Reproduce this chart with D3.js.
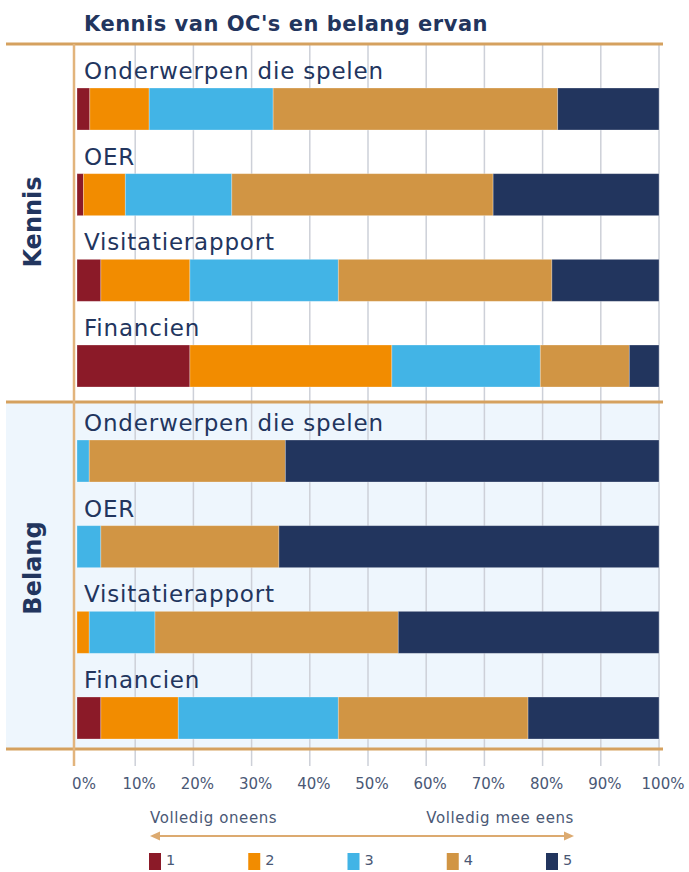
<!DOCTYPE html>
<html>
<head>
<meta charset="utf-8">
<script src="https://cdn.jsdelivr.net/npm/d3@7"></script>
<style>
  body { margin: 0; background: #fff; }
  svg { display: block; font-family: 'DejaVu Sans', sans-serif; }
</style>
</head>
<body>
<svg id="chart" width="689" height="872"></svg>
<script>
const categories = ['Onderwerpen die spelen', 'OER', 'Visitatierapport', 'Financien']
const sections = ['Kennis', 'Belang']
const levels = ['1', '2', '3', '4', '5']
const colors = ['#8b1a28', '#f28c00', '#42b4e6', '#d19544', '#22355e']

// share of answers per level 1..5
const kennis = [
  [2.2, 10.2, 21.3, 48.9, 17.4],
  [1.1, 7.2, 18.3, 44.9, 28.5],
  [4.1, 15.3, 25.5, 36.7, 18.4],
  [19.4, 34.7, 25.5, 15.3, 5.1],
]
const belang = [
  [0, 0, 2.1, 33.7, 64.2],
  [0, 0, 4.1, 30.6, 65.3],
  [0, 2.1, 11.3, 41.8, 44.8],
  [4.1, 13.3, 27.5, 32.6, 22.5],
]
const tickValues = [0, 10, 20, 30, 40, 50, 60, 70, 80, 90, 100]
const title = "Kennis van OC's en belang ervan"
const leftLabel = 'Volledig oneens'
const rightLabel = 'Volledig mee eens'

const navy = '#22355e'
const rule = '#d5a15f'

const svg = d3.select('#chart')

const x = d3.scaleLinear().domain([0, 100]).range([77, 659])

// section bands (top rule, bottom rule) and bar rows per section
const sectionBox = d3.scaleOrdinal().domain(sections).range([[44, 402], [402, 749]])
const rowScale = {
  Kennis: d3.scalePoint().domain(categories).range([88, 345]),
  Belang: d3.scalePoint().domain(categories).range([440, 697]),
}
const barHeight = 42
const sectionLabelY = d3.scaleOrdinal().domain(sections).range([222, 568])

// Belang background
svg.append('rect')
  .attr('x', 6).attr('width', 654)
  .attr('y', sectionBox('Belang')[0])
  .attr('height', sectionBox('Belang')[1] - sectionBox('Belang')[0])
  .attr('fill', '#eef6fd')

// gridlines
svg.append('g')
  .selectAll('line')
  .data(tickValues.slice(1))
  .join('line')
  .attr('x1', d => x(d)).attr('x2', d => x(d))
  .attr('y1', 44).attr('y2', 766)
  .attr('stroke', '#cdd0d8')
  .attr('stroke-width', 1.5)

// tick labels
svg.append('g')
  .selectAll('text')
  .data(tickValues)
  .join('text')
  .attr('x', d => x(d) + (d === 0 ? 7 : 4))
  .attr('y', 789)
  .attr('text-anchor', 'middle')
  .attr('font-size', 15)
  .attr('fill', '#4a5875')
  .text(d => d + '%')

// stacked bars
const stack = d3.stack().keys(d3.range(levels.length))
const data = { Kennis: kennis, Belang: belang }

sections.forEach(section => {
  const y = rowScale[section]
  const series = stack(data[section])
  svg.append('g')
    .selectAll('g')
    .data(series)
    .join('g')
    .attr('fill', (d, i) => colors[i])
    .selectAll('rect')
    .data(d => d.map((v, j) => ({ v, cat: categories[j] })))
    .join('rect')
    .attr('x', d => x(d.v[0]))
    .attr('width', d => x(d.v[1]) - x(d.v[0]))
    .attr('y', d => y(d.cat))
    .attr('height', barHeight)
    .attr('stroke', 'rgba(255,255,255,0.35)')
    .attr('stroke-width', 0.8)

  svg.append('g')
    .selectAll('text')
    .data(categories)
    .join('text')
    .attr('x', 84)
    .attr('y', d => y(d) - 9)
    .attr('font-size', 23)
    .attr('letter-spacing', 0.8)
    .attr('fill', navy)
    .text(d => d)

  svg.append('text')
    .attr('transform', `translate(41,${sectionLabelY(section)}) rotate(-90)`)
    .attr('text-anchor', 'middle')
    .attr('font-size', 24)
    .attr('font-weight', 'bold')
    .attr('fill', navy)
    .text(section)
})

// horizontal rules
svg.append('g')
  .selectAll('line')
  .data([44, 402, 749])
  .join('line')
  .attr('x1', 6).attr('x2', 663)
  .attr('y1', d => d).attr('y2', d => d)
  .attr('stroke', rule)
  .attr('stroke-width', 3)

// vertical axis line
svg.append('line')
  .attr('x1', 74).attr('x2', 74)
  .attr('y1', 44).attr('y2', 766)
  .attr('stroke', '#e2b47c')
  .attr('stroke-width', 2.5)

// title
svg.append('text')
  .attr('x', 84).attr('y', 31)
  .attr('font-size', 21)
  .attr('letter-spacing', 0.5)
  .attr('font-weight', 'bold')
  .attr('fill', navy)
  .text(title)

// legend
const legendX = d3.scalePoint().domain(levels).range([149, 546])
const arrowX = d3.scaleLinear().domain([0, 1]).range([150, 574])

svg.append('text')
  .attr('x', arrowX(0)).attr('y', 823)
  .attr('font-size', 15)
  .attr('letter-spacing', 0.6)
  .attr('fill', '#4a5875')
  .text(leftLabel)

svg.append('text')
  .attr('x', arrowX(1)).attr('y', 823)
  .attr('text-anchor', 'end')
  .attr('font-size', 15)
  .attr('letter-spacing', 0.6)
  .attr('fill', '#4a5875')
  .text(rightLabel)

const ay = 836
svg.append('line')
  .attr('x1', arrowX(0) + 6).attr('x2', arrowX(1) - 6)
  .attr('y1', ay).attr('y2', ay)
  .attr('stroke', '#dcaa70')
  .attr('stroke-width', 2)

const head = d3.line()
svg.append('path')
  .attr('d', head([[arrowX(0), ay], [arrowX(0) + 10, ay - 4.5], [arrowX(0) + 10, ay + 4.5]]) + 'Z')
  .attr('fill', '#dcaa70')
svg.append('path')
  .attr('d', head([[arrowX(1), ay], [arrowX(1) - 10, ay - 4.5], [arrowX(1) - 10, ay + 4.5]]) + 'Z')
  .attr('fill', '#dcaa70')

const legend = svg.append('g')
  .selectAll('g')
  .data(levels)
  .join('g')
  .attr('transform', d => `translate(${legendX(d)},853)`)

legend.append('rect')
  .attr('width', 12).attr('height', 17)
  .attr('fill', (d, i) => colors[i])

legend.append('text')
  .attr('x', 17).attr('y', 12)
  .attr('font-size', 14.5)
  .attr('fill', '#4a5875')
  .text(d => d)
</script>
</body>
</html>
